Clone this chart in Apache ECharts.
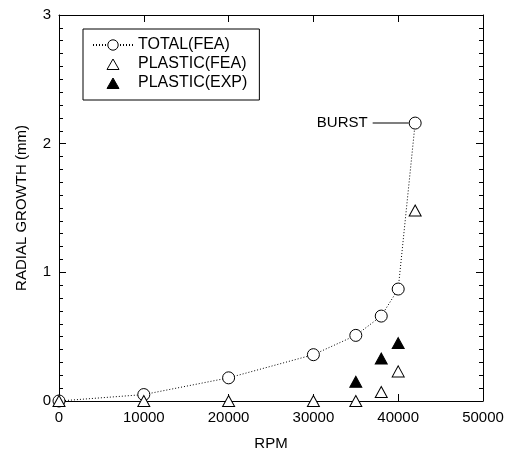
<!DOCTYPE html>
<html>
<head>
<meta charset="utf-8">
<script src="https://cdn.jsdelivr.net/npm/echarts@6/dist/echarts.min.js"></script>
<style>
  html, body { margin: 0; padding: 0; background: #fff; }
  #chart { width: 509px; height: 456px; }
</style>
</head>
<body>
<div id="chart"></div>
<script>
// values
var rpm = [0, 10000, 20000, 30000, 35000, 38000, 40000, 42000];
var totalFea = [0, 0.05, 0.18, 0.36, 0.51, 0.66, 0.87, 2.16];
var plasticFea = [0, 0, 0, 0, 0, 0.07, 0.23, 1.48];
var expRpm = [35000, 38000, 40000];
var plasticExp = [0.15, 0.33, 0.45];

var font = '"Liberation Sans", Arial, sans-serif';
// legend triangle kept small inside the 40x13 icon box
var triIcon = 'path://M0,0M40,0M40,13M0,13M14,12L20,1.5L26,12Z';

function pairs(xs, ys) {
    return xs.map(function (x, i) { return [x, ys[i]]; });
}

var totalData = pairs(rpm, totalFea);
// burst point gets its label
totalData[totalData.length - 1] = {
    value: totalData[totalData.length - 1],
    label: {
        show: true,
        position: 'left',
        distance: 0,
        formatter: '{t|BURST}{l|}',
        rich: {
            t: { fontSize: 15, fontFamily: font, color: '#000', padding: [0, 5, 0, 0] },
            l: { width: 36, height: 1, backgroundColor: '#000' }
        }
    }
};

var axisLine = { show: true, onZero: false, lineStyle: { color: '#000', width: 1 } };
var labelStyle = { color: '#000', fontSize: 15, fontFamily: font };
function tick() { return { show: true, inside: true, length: 7, lineStyle: { color: '#000', width: 1 } }; }
function minor() { return { show: true, splitNumber: 10, length: 4, lineStyle: { color: '#000', width: 1 } }; }

var myChart = echarts.init(document.getElementById('chart'));
myChart.setOption({
    backgroundColor: '#fff',
    animation: false,
    grid: { left: 59, right: 26, top: 15, bottom: 51 },
    legend: {
        left: 83,
        top: 29,
        orient: 'vertical',
        borderColor: '#000',
        borderWidth: 1,
        borderRadius: 0,
        padding: [8, 12, 9, 9],
        itemWidth: 40,
        itemHeight: 13,
        itemGap: 3,
        itemStyle: { borderWidth: 1 },
        textStyle: { color: '#000', fontSize: 16, fontFamily: font, lineHeight: 13 },
        data: [
            { name: 'TOTAL(FEA)' },
            { name: 'PLASTIC(FEA)', icon: triIcon },
            { name: 'PLASTIC(EXP)', icon: triIcon }
        ]
    },
    xAxis: [{
        type: 'value',
        min: 0, max: 50000, interval: 10000,
        name: 'RPM',
        nameLocation: 'middle',
        nameGap: 35,
        nameTextStyle: labelStyle,
        axisLine: axisLine,
        axisTick: tick(),
        axisLabel: Object.assign({ margin: 9, formatter: function (v) { return String(v); } }, labelStyle),
        splitLine: { show: false }
    }, {
        type: 'value',
        position: 'top',
        min: 0, max: 50000, interval: 10000,
        axisLine: axisLine,
        axisTick: tick(),
        axisLabel: { show: false },
        splitLine: { show: false }
    }],
    yAxis: [{
        type: 'value',
        min: 0, max: 3, interval: 1,
        name: 'RADIAL GROWTH (mm)',
        nameLocation: 'middle',
        nameGap: 30,
        nameTextStyle: labelStyle,
        axisLine: axisLine,
        axisTick: tick(),
        minorTick: minor(),
        axisLabel: Object.assign({ margin: 8 }, labelStyle),
        splitLine: { show: false },
        minorSplitLine: { show: false }
    }, {
        type: 'value',
        position: 'right',
        min: 0, max: 3, interval: 1,
        axisLine: axisLine,
        axisTick: tick(),
        minorTick: minor(),
        axisLabel: { show: false },
        splitLine: { show: false },
        minorSplitLine: { show: false }
    }],
    series: [{
        name: 'TOTAL(FEA)',
        type: 'line',
        data: totalData,
        clip: false,
        symbol: 'circle',
        symbolSize: 12,
        showAllSymbol: true,
        itemStyle: { color: '#fff', borderColor: '#000', borderWidth: 1 },
        lineStyle: { color: '#000', width: 1, type: [1, 2] },
        z: 3
    }, {
        name: 'PLASTIC(FEA)',
        type: 'scatter',
        data: pairs(rpm, plasticFea),
        clip: false,
        symbol: 'triangle',
        symbolSize: [12, 11],
        itemStyle: { color: '#fff', borderColor: '#000', borderWidth: 1, opacity: 1 },
        z: 4
    }, {
        name: 'PLASTIC(EXP)',
        type: 'scatter',
        data: pairs(expRpm, plasticExp),
        clip: false,
        symbol: 'triangle',
        symbolSize: [12, 11],
        itemStyle: { color: '#000', borderColor: '#000', borderWidth: 1, opacity: 1 },
        z: 4
    }]
});
</script>
</body>
</html>
